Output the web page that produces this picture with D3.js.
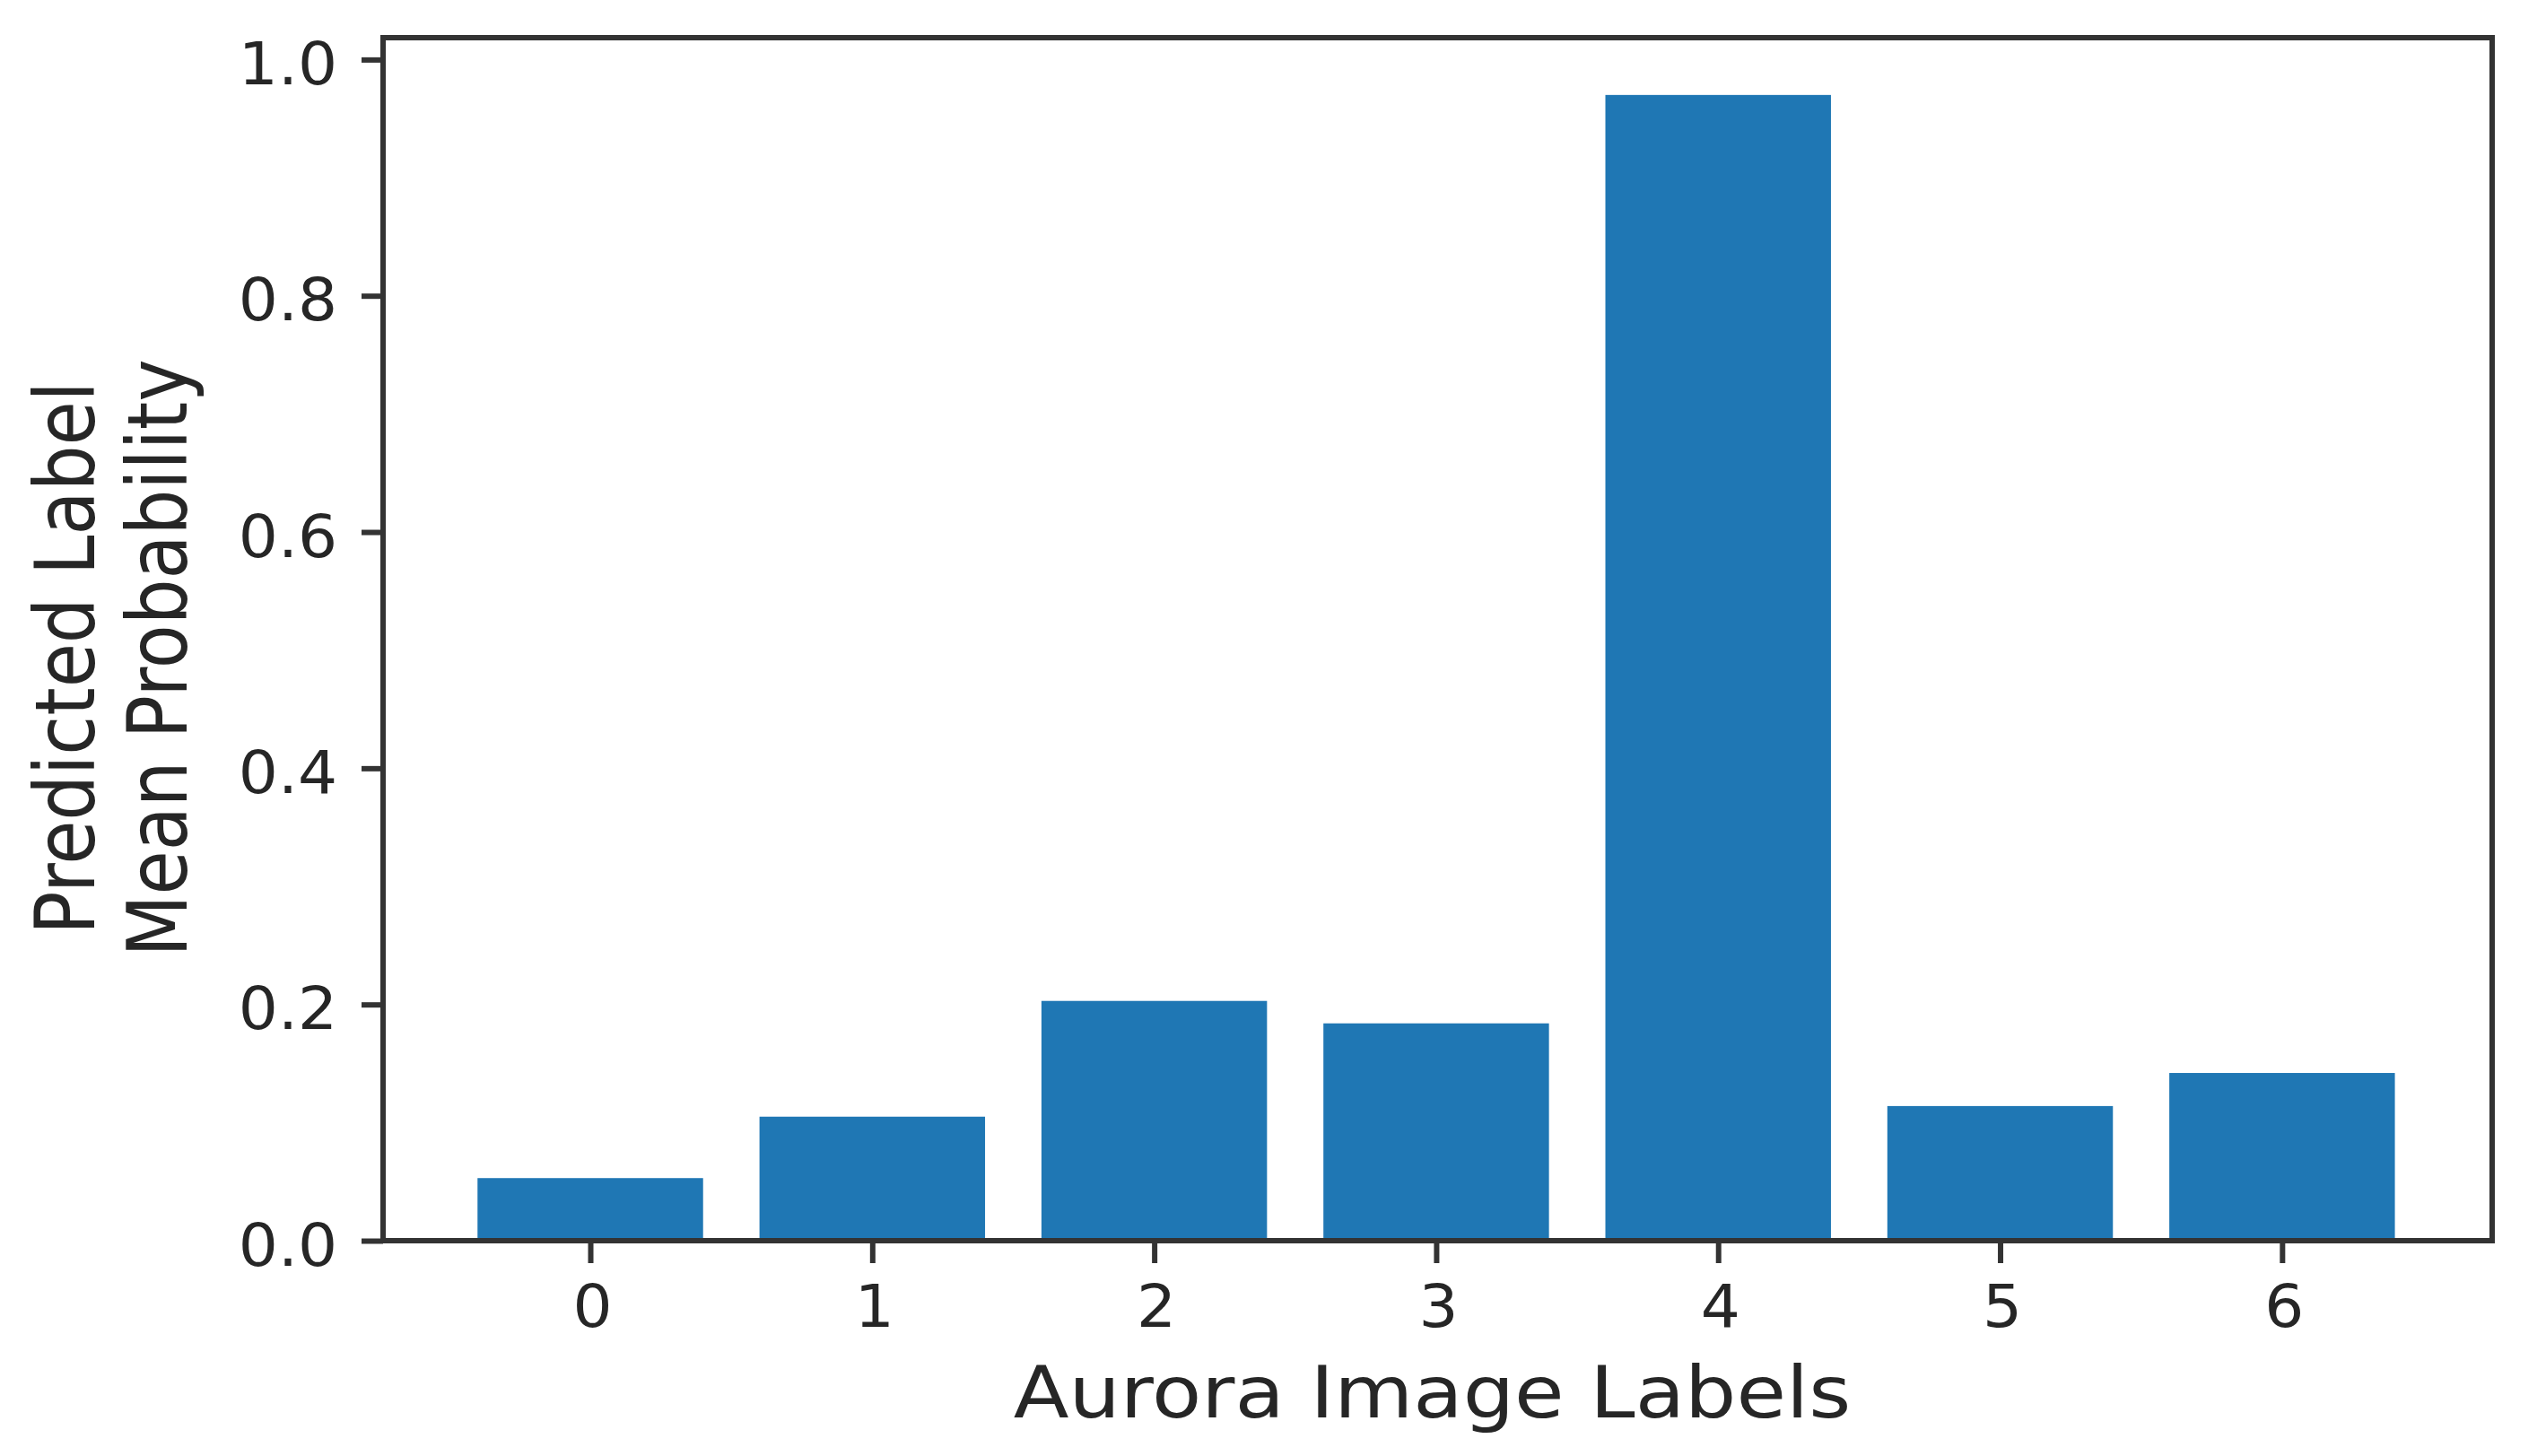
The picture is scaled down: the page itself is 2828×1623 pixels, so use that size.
<!DOCTYPE html>
<html>
<head>
<meta charset="utf-8">
<script src="https://cdnjs.cloudflare.com/ajax/libs/d3/7.8.5/d3.min.js"></script>
<style>
  body { margin: 0; background: #ffffff; }
  text { font-family: "DejaVu Sans", sans-serif; fill: #262626; }
</style>
</head>
<body>
<div id="chart"></div>
<script>
  // ---- //
 // Data //
// ---- //
var labels = [0, 1, 2, 3, 4, 5, 6];
var meanProb = [0.053, 0.105, 0.203, 0.184, 0.970, 0.114, 0.142];
var yTicks = [0.0, 0.2, 0.4, 0.6, 0.8, 1.0];

  // ------------ //
 // Set up chart //
// ------------ //
var svgWidth = 2828;
var svgHeight = 1623;

var margin = {
  top: 42,
  right: 50,
  bottom: 240,
  left: 427
};

var width = svgWidth - margin.left - margin.right;
var height = svgHeight - margin.top - margin.bottom;

// low-res source looks a bit wider than tall, stretch text sideways
var tickStretch = 1.05;
var labelStretch = 1.15;
var tickFont = 66;
var labelFont = 80;

var svg = d3.select("#chart")
  .append("svg")
  .attr("width", svgWidth)
  .attr("height", svgHeight);

svg.append("rect")
  .attr("width", svgWidth)
  .attr("height", svgHeight)
  .attr("fill", "#ffffff");

var chartGroup = svg.append("g")
  .attr("transform", `translate(${margin.left}, ${margin.top})`);

  // ------ //
 // Scales //
// ------ //
var xScale = d3.scaleLinear()
  .domain([-0.735, 6.745])
  .range([0, width]);

var yScale = d3.scaleLinear()
  .domain([0, 0.97 * 1.05])
  .range([height, 0]);

var barWidth = xScale(0.8) - xScale(0);

  // ---- //
 // Bars //
// ---- //
chartGroup.selectAll("rect.bar")
  .data(labels)
  .enter()
  .append("rect")
  .attr("class", "bar")
  .attr("x", (d, i) => xScale(d) - barWidth / 2)
  .attr("y", (d, i) => yScale(meanProb[i]))
  .attr("width", barWidth)
  .attr("height", (d, i) => yScale(0) - yScale(meanProb[i]))
  .attr("fill", "#1f77b4");

  // ---- //
 // Axes //
// ---- //
var bottomAxis = d3.axisBottom(xScale)
  .tickValues(labels)
  .tickFormat(d3.format("d"))
  .tickSize(25)
  .tickPadding(1);

var leftAxis = d3.axisLeft(yScale)
  .tickValues(yTicks)
  .tickFormat(d3.format(".1f"))
  .tickSize(24)
  .tickPadding(1);

var xAxis = chartGroup.append("g")
  .attr("transform", `translate(0, ${height})`)
  .call(bottomAxis);

var yAxis = chartGroup.append("g")
  .call(leftAxis);

[xAxis, yAxis].forEach(function(ax) {
  ax.select(".domain").remove();
  ax.selectAll(".tick line")
    .attr("stroke", "#333333")
    .attr("stroke-width", 6);
});

xAxis.selectAll(".tick text")
  .attr("y", null)
  .attr("dy", null)
  .attr("font-size", tickFont)
  .attr("text-anchor", "middle")
  .attr("transform", `translate(2, 96) scale(${tickStretch}, 1)`);

yAxis.selectAll(".tick text")
  .attr("x", null)
  .attr("dy", null)
  .attr("font-size", tickFont)
  .attr("text-anchor", "end")
  .attr("transform", `translate(-51, 27) scale(${tickStretch}, 1)`);

// frame
chartGroup.append("rect")
  .attr("x", 0)
  .attr("y", 0)
  .attr("width", width)
  .attr("height", height)
  .attr("fill", "none")
  .attr("stroke", "#333333")
  .attr("stroke-width", 6);

  // ----------- //
 // Axis labels //
// ----------- //
chartGroup.append("text")
  .attr("transform", `translate(${width / 2 - 6}, ${height + 197}) scale(${labelStretch - 0.02}, 1)`)
  .attr("text-anchor", "middle")
  .attr("font-size", labelFont)
  .text("Aurora Image Labels");

var yLabel = svg.append("text")
  .attr("transform", `translate(0, ${margin.top + height / 2 + 21}) scale(${labelStretch}, 1) rotate(-90)`)
  .attr("text-anchor", "middle")
  .attr("font-size", labelFont);

yLabel.append("tspan")
  .attr("x", 0)
  .attr("y", 91)
  .text("Predicted Label");

yLabel.append("tspan")
  .attr("x", 0)
  .attr("y", 181)
  .text("Mean Probability");
</script>
</body>
</html>
